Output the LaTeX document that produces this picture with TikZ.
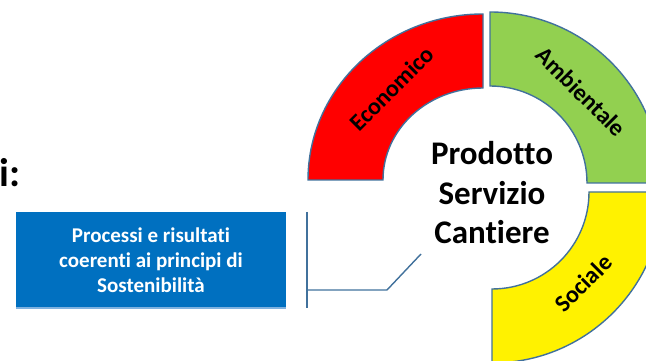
\documentclass[tikz,border=0pt]{standalone}
\usepackage{fontspec}
\setmainfont{Carlito}[Ligatures=NoCommon]
\usetikzlibrary{positioning,calc}
\definecolor{edgeblue}{HTML}{41719C}
\definecolor{boxblue}{HTML}{0070C0}
\definecolor{lightblue}{HTML}{7FB2E0}
\definecolor{ambgreen}{HTML}{92D050}
\tikzset{
  seg/.style={draw=edgeblue, line width=1.4pt},
  seglabel/.style={font=\bfseries\fontsize{24}{24}\selectfont, text=black},
  link/.style={draw=edgeblue, line width=1.4pt}
}
\begin{document}
\begin{tikzpicture}[x=1pt, y=1pt]
    \pgfmathsetmacro{\R}{171}
    \pgfmathsetmacro{\r}{97}
    \pgfmathsetmacro{\rmid}{129}
    \useasboundingbox (0,0) rectangle (646,361);
    \clip (0,0) rectangle (646,361);
    % ring segments
    \draw[seg, fill=red] (483,181+92)--(483,181+166)
      arc [start angle=90, end angle=180, x radius=175, y radius=166]
      --(483-100,181)
      arc [start angle=180, end angle=90, x radius=100, y radius=92]--cycle;
    \draw[seg, fill=ambgreen] (490+\r,178)--(490+\R,178) arc (0:90:\R)
      --(490,178+\r) arc (90:0:\r)--cycle;
    \draw[seg, fill=yellow] (492,169-\r)--(492,169-\R) arc (-90:0:\R)
      --(492+\r,169) arc (0:-90:\r)--cycle;
    \node[seglabel, rotate=45] (eco) at ($(483,181)+(135:\rmid)$) {Economico};
    \node[seglabel, rotate=-45] (amb) at ($(490,178)+(45:\rmid)$) {Ambientale};
    \node[seglabel, rotate=45] (soc) at ($(492,169)+(-45:\rmid)$) {Sociale};
    \node[font=\bfseries\fontsize{33}{39.5}\selectfont, align=center] (prod)
      at (492,168) {Prodotto\\Servizio\\Cantiere};
    % title and box
    \node[font=\bfseries\fontsize{40}{40}\selectfont, anchor=base west,
      inner sep=0pt] (title) at (-1,174) {i:};
    \node[fill=boxblue, text=white, minimum width=270, minimum height=96,
      align=center, font=\bfseries\fontsize{21}{25}\selectfont] (proc)
      at (151,101) {Processi e risultati\\coerenti ai principi di\\Sostenibilità};
    \draw[lightblue, line width=1.5pt] (proc.south west)--(proc.south east);
    % bracket
    \coordinate (bt) at (307,149);
    \coordinate (bb) at (307,53);
    \coordinate (bm) at (307,71);
    \coordinate (bk) at (387,71);
    \coordinate (tip) at (421,107);
    \draw[link] (bt)--(bb);
    \draw[link] (bm)--(bk)--(tip);
  \end{tikzpicture}
\end{document}
